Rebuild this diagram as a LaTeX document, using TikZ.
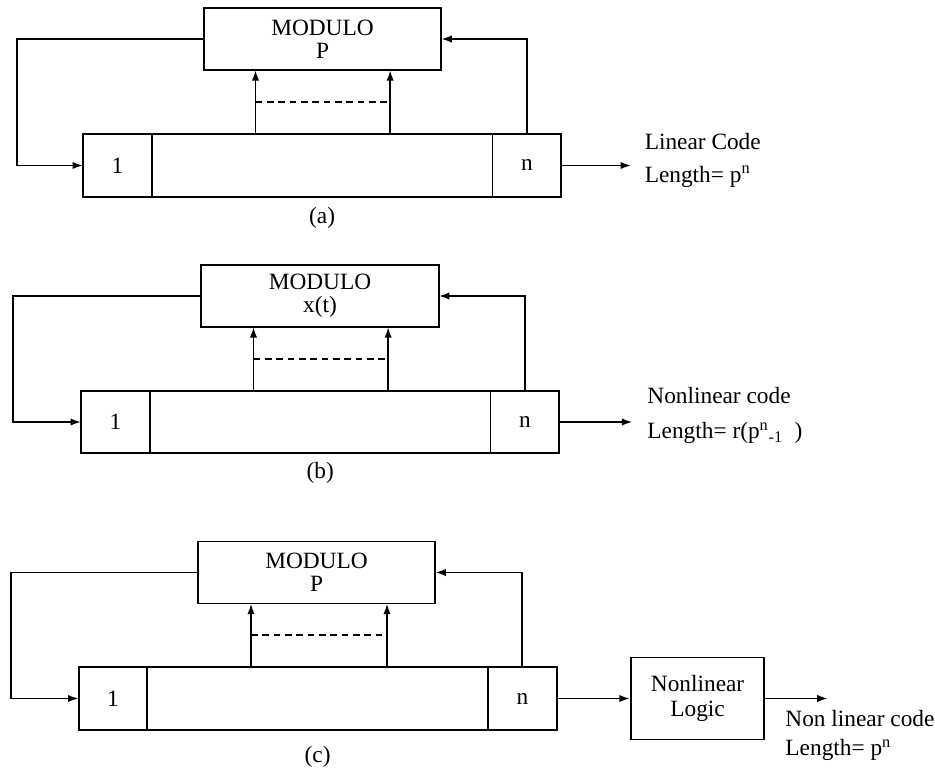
\documentclass[tikz,border=0pt]{standalone}
\usepackage{fontspec}
\setmainfont{Liberation Serif}
\usepackage{tikz}
\usetikzlibrary{calc,arrows.meta}
\usetikzlibrary{positioning}

\begin{document}
\begin{tikzpicture}[
    x=0.75pt, y=-0.75pt,
    node distance=0pt,
    font=\fontsize{17.5}{17.5}\selectfont,
    >={Latex[length=8pt,width=5.5pt]}
  ]

  % Global Style Definitions
  \tikzset{
    modbox/.style={draw, line width=1.4pt, minimum width=178pt, minimum height=46.5pt, align=center, inner sep=0pt, outer sep=0pt},
    cell/.style={draw, line width=1.4pt, minimum width=51.5pt, minimum height=47pt, inner sep=0pt, outer sep=0pt},
    midcell/.style={cell, minimum width=255.5pt},
    logicbox/.style={draw, line width=1.4pt, minimum width=100pt, minimum height=61.5pt, align=center, inner sep=0pt},
    outlabel/.style={align=left, inner sep=0pt},
    flow/.style={->, line width=1.4pt},
    tapline/.style={dashed, line width=1.4pt, dash pattern=on 5pt off 3.5pt}
  }

  \useasboundingbox (0,0) rectangle (935,777);

  % --- (a) shift register, linear code ---
  \node (moda)   [modbox] at (322.5,39) {MODULO \\ P};
  \node (cella1) [cell] at (117.5,165.5) {1};
  \node (mida)   [midcell, right=of cella1] {};
  \node (cellna) [cell, right=of mida] {n};
  \node (capa)   [below=4pt of mida] {(a)};

  \coordinate (tapa1) at ([xshift=-50pt]mida.north);
  \coordinate (tapa2) at ([xshift=51pt]mida.north);
  \coordinate (enda)  at ([xshift=52.5pt]cellna.east);
  \node (outa) [outlabel, right=10pt of enda, yshift=4pt] {Linear Code \\[7pt] Length= p\textsuperscript{n}};

  \draw[flow] (moda.west) -- ++(-140pt,0) |- (cella1.west);
  \draw[flow] (cellna.north) |- (moda.east);
  \draw[flow] (tapa1) -- (tapa1 |- moda.south);
  \draw[flow] (tapa2) -- (tapa2 |- moda.south);
  \draw[tapline] ($(tapa1)!0.5!(tapa1 |- moda.south)$) -- ($(tapa2)!0.5!(tapa2 |- moda.south)$);
  \draw[flow] (cellna) -- (enda);

  % --- (b) shift register, nonlinear code ---
  \node (modb)   [modbox] at (320,296) {MODULO \\ x(t)};
  \node (cellb1) [cell] at (115.5,422) {1};
  \node (midb)   [midcell, right=of cellb1] {};
  \node (cellnb) [cell, right=of midb] {n};
  \node (capb)   [below=3pt of midb] {(b)};

  \coordinate (tapb1) at ([xshift=-50pt]midb.north);
  \coordinate (tapb2) at ([xshift=51pt]midb.north);
  \coordinate (endb)  at ([xshift=55pt]cellnb.east);
  \node (outb) [outlabel, right=11pt of endb, yshift=5pt] {Nonlinear code \\[9pt] Length= r(p\textsuperscript{n}\textsubscript{-1}\ \ )};

  \draw[flow] (modb.west) -- ++(-141pt,0) |- (cellb1.west);
  \draw[flow] (cellnb.north) |- (modb.east);
  \draw[flow] (tapb1) -- (tapb1 |- modb.south);
  \draw[flow] (tapb2) -- (tapb2 |- modb.south);
  \draw[tapline] ($(tapb1)!0.5!(tapb1 |- modb.south)$) -- ($(tapb2)!0.5!(tapb2 |- modb.south)$);
  \draw[flow] (cellnb) -- (endb);

  % --- (c) shift register with nonlinear logic ---
  \node (modc)   [modbox] at (316.5,572.5) {MODULO \\ P};
  \node (cellc1) [cell] at (113,698.5) {1};
  \node (midc)   [midcell, right=of cellc1] {};
  \node (cellnc) [cell, right=of midc] {n};
  \node (capc)   [below=9pt of midc] {(c)};
  \node (logic)  [logicbox, right=55pt of cellnc] {Nonlinear \\[1pt] Logic};

  \coordinate (tapc1) at ([xshift=-50pt]midc.north);
  \coordinate (tapc2) at ([xshift=52pt]midc.north);
  \coordinate (endc)  at ([xshift=47pt]logic.east);
  \node (outc) [outlabel, anchor=north west] at ([xshift=-32pt, yshift=-9pt]endc) {Non linear code \\[4pt] Length= p\textsuperscript{n}};

  \draw[flow] (modc.west) -- ++(-140pt,0) |- (cellc1.west);
  \draw[flow] (cellnc.north) |- (modc.east);
  \draw[flow] (tapc1) -- (tapc1 |- modc.south);
  \draw[flow] (tapc2) -- (tapc2 |- modc.south);
  \draw[tapline] ($(tapc1)!0.5!(tapc1 |- modc.south)$) -- ($(tapc2)!0.5!(tapc2 |- modc.south)$);
  \draw[flow] (cellnc) -- (logic);
  \draw[flow] (logic) -- (endc);

\end{tikzpicture}
\end{document}
